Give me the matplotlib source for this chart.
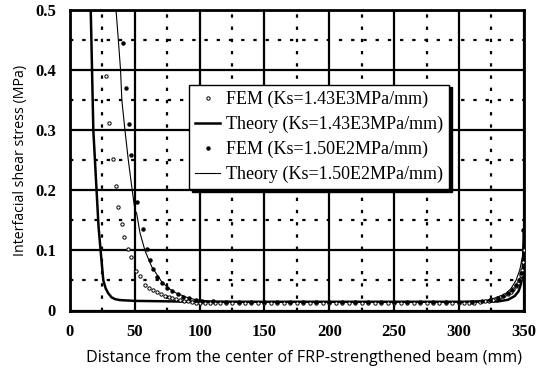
import matplotlib
matplotlib.use("Agg")
import matplotlib.pyplot as plt
from matplotlib.ticker import MultipleLocator

plt.rcParams['font.family'] = ['Liberation Serif', 'DejaVu Serif']
label_font = ['Open Sans', 'DejaVu Sans']

# Theory, Ks = 1.43E3 MPa/mm (thick line)
th1_x = [15.5, 16, 18, 20.5, 22, 23.6, 25.7, 27.5, 29.5, 32, 34.7, 38, 41, 50, 100,
         150, 200, 250, 300, 330, 338, 343, 346, 348, 349.2, 349.8, 350]
th1_y = [0.52, 0.5, 0.3, 0.2, 0.14, 0.1, 0.05, 0.037, 0.0286, 0.022, 0.019, 0.0175,
         0.017, 0.016, 0.0145, 0.0145, 0.0145, 0.0145, 0.0145, 0.015, 0.018, 0.024,
         0.032, 0.045, 0.07, 0.10, 0.135]

# Theory, Ks = 1.50E2 MPa/mm (thin line)
th2_x = [35, 35.5, 37.3, 39, 40, 42.4, 45, 48, 50.1, 51.4, 54, 57.8, 63, 70.7, 76, 82,
         90, 97.7, 110, 150, 200, 250, 300, 320, 330, 336, 340, 344, 347, 349, 350]
th2_y = [0.52, 0.5, 0.45, 0.4, 0.35, 0.3, 0.25, 0.2, 0.167, 0.162, 0.129, 0.1, 0.073,
         0.048, 0.037, 0.029, 0.022, 0.0175, 0.0155, 0.0145, 0.0145, 0.0145, 0.0145,
         0.0165, 0.022, 0.028, 0.036, 0.05, 0.068, 0.09, 0.125]

# FEM, Ks = 1.43E3 MPa/mm
fem1_x = [27.7, 30, 32.8, 35.4, 37.4, 40, 41.3, 45, 47.4, 51, 54, 58, 61, 64, 67, 70,
          73, 76, 79, 82, 85, 88, 91, 94, 97, 100, 104, 108, 112, 116, 120, 125, 130,
          135, 140, 145, 150, 155, 160, 165, 170, 175, 180, 185, 190, 195, 200, 205,
          210, 215, 220, 225, 230, 235, 240, 245, 250, 255, 260, 265, 270, 275, 280,
          285, 290, 295, 300, 304, 308, 312, 316, 320, 323, 326, 329, 332, 335, 338,
          340, 342, 344, 345.5, 347, 348, 349, 349.6, 350]
fem1_y = [0.39, 0.312, 0.253, 0.207, 0.173, 0.144, 0.122, 0.102, 0.089, 0.066, 0.057,
          0.043, 0.038, 0.034, 0.030, 0.027, 0.024, 0.022, 0.020, 0.019, 0.017, 0.016,
          0.015, 0.014, 0.013, 0.013, 0.0125, 0.012, 0.012, 0.012, 0.012, 0.012, 0.012,
          0.012, 0.012, 0.012, 0.012, 0.012, 0.012, 0.012, 0.012, 0.012, 0.012, 0.012,
          0.012, 0.012, 0.012, 0.012, 0.012, 0.012, 0.012, 0.012, 0.012, 0.012, 0.012,
          0.012, 0.012, 0.012, 0.012, 0.012, 0.012, 0.012, 0.012, 0.012, 0.012, 0.012,
          0.012, 0.0125, 0.013, 0.013, 0.014, 0.015, 0.016, 0.018, 0.020, 0.022, 0.025,
          0.028, 0.031, 0.035, 0.040, 0.046, 0.052, 0.059, 0.068, 0.08, 0.10]

# FEM, Ks = 1.50E2 MPa/mm
fem2_x = [40.5, 43, 45.5, 47.4, 52, 56, 59.5, 62, 64, 67, 71, 75, 79, 83, 87, 92, 97,
          102, 110, 120, 130, 140, 150, 160, 170, 180, 190, 200, 210, 220, 230, 240,
          250, 260, 270, 280, 290, 300, 310, 318, 324, 330, 334, 338, 341, 344, 346,
          348, 349.5]
fem2_y = [0.445, 0.37, 0.31, 0.259, 0.181, 0.135, 0.102, 0.084, 0.069, 0.056, 0.046,
          0.038, 0.032, 0.027, 0.023, 0.020, 0.018, 0.016, 0.015, 0.014, 0.0135, 0.0135,
          0.0135, 0.0135, 0.0135, 0.0135, 0.0135, 0.0135, 0.0135, 0.0135, 0.0135, 0.0135,
          0.0135, 0.0135, 0.0135, 0.0135, 0.0135, 0.0135, 0.014, 0.015, 0.017, 0.020,
          0.024, 0.029, 0.034, 0.042, 0.050, 0.062, 0.134]

fig = plt.figure(figsize=(5.49, 3.75), dpi=100)
ax = fig.add_axes([0.1275, 0.172, 0.8265, 0.801])

ax.plot(fem1_x, fem1_y, linestyle='none', marker='o', markersize=2.4,
        markerfacecolor='white', markeredgecolor='black', markeredgewidth=0.7,
        label='FEM (Ks=1.43E3MPa/mm)', zorder=4)
ax.plot(th1_x, th1_y, color='black', linewidth=1.8,
        label='Theory (Ks=1.43E3MPa/mm)', zorder=3)
ax.plot(fem2_x, fem2_y, linestyle='none', marker='o', markersize=2.2,
        color='black', label='FEM (Ks=1.50E2MPa/mm)', zorder=4)
ax.plot(th2_x, th2_y, color='black', linewidth=0.8,
        label='Theory (Ks=1.50E2MPa/mm)', zorder=3)

ax.set_xlim(0, 350)
ax.set_ylim(0, 0.5)
ax.xaxis.set_major_locator(MultipleLocator(50))
ax.xaxis.set_minor_locator(MultipleLocator(25))
ax.yaxis.set_major_locator(MultipleLocator(0.1))
ax.yaxis.set_minor_locator(MultipleLocator(0.05))
ax.set_yticks([0, 0.1, 0.2, 0.3, 0.4, 0.5])
ax.set_yticklabels(['0', '0.1', '0.2', '0.3', '0.4', '0.5'])

ax.grid(which='major', color='black', linewidth=1.6, linestyle='-')
ax.grid(which='minor', color='black', linewidth=1.6, linestyle=(0, (1.5, 4)))
ax.set_axisbelow(True)
ax.tick_params(which='both', length=0, labelsize=12, pad=10)
for lab in ax.get_xticklabels() + ax.get_yticklabels():
    lab.set_fontweight('bold')
for s in ax.spines.values():
    s.set_linewidth(2)

ax.set_xlabel('Distance from the center of FRP-strengthened beam (mm)',
              fontsize=11.6, family=label_font, labelpad=7)
ax.xaxis.label.set_x(0.516)
ax.set_ylabel('Interfacial shear stress (MPa)', fontsize=10.2,
              family=label_font, labelpad=5)

leg = ax.legend(loc='upper left', bbox_to_anchor=(0.262, 0.752), fontsize=13,
                frameon=True, fancybox=False, edgecolor='black',
                shadow={'color': 'black', 'alpha': 1}, handlelength=1.4,
                handletextpad=0.3, borderpad=0.35, labelspacing=0.42,
                borderaxespad=0)
leg.get_frame().set_linewidth(1.0)
leg.get_frame().set_alpha(1)

fig.savefig('out.png', dpi=100)
